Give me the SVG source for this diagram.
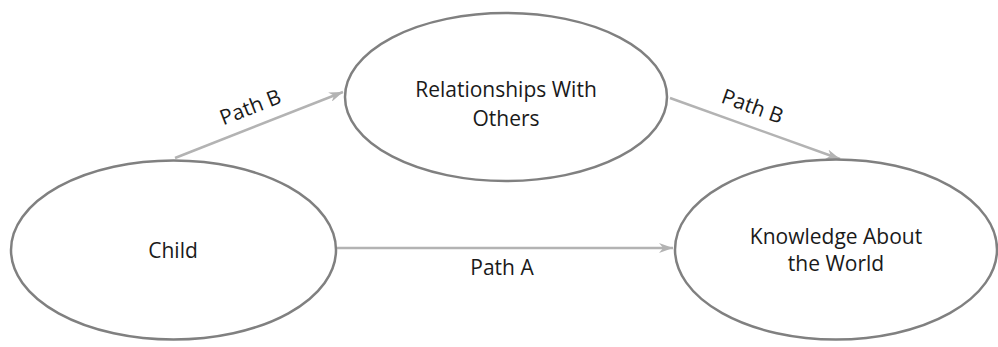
<svg xmlns="http://www.w3.org/2000/svg" width="998" height="347" viewBox="0 0 998 347">
<defs>
<style>
.node{fill:#fff;stroke:#808080;stroke-width:2.5}
.edge{stroke:#b3b3b3;stroke-width:2.5;fill:none}
text{font-family:"Open Sans","Noto Sans",sans-serif;font-size:21px;fill:#1a1a1a;text-anchor:middle}
</style>
<marker id="ah" viewBox="0 0 10 10" refX="10" refY="5" markerWidth="14" markerHeight="10" markerUnits="userSpaceOnUse" orient="auto" preserveAspectRatio="none">
<path d="M0,0 L10,5 L0,10 L3,5 Z" fill="#b3b3b3"/>
</marker>
</defs>
<rect width="998" height="347" fill="#fff"/>
<g id="connectors">
<line class="edge" x1="175" y1="158" x2="343" y2="92" marker-end="url(#ah)"/>
<line class="edge" x1="670" y1="98" x2="840" y2="159" marker-end="url(#ah)"/>
<line class="edge" x1="337" y1="248" x2="673" y2="248" marker-end="url(#ah)"/>
<text x="253" y="114" transform="rotate(-21.4 253 114)">Path B</text>
<text x="750" y="113" transform="rotate(19.7 750 113)">Path B</text>
<text x="502" y="275">Path A</text>
</g>
<g id="child">
<ellipse class="node" cx="173.5" cy="250" rx="162.5" ry="89.5"/>
<text x="173" y="258">Child</text>
</g>
<g id="relationships">
<ellipse class="node" cx="506" cy="97" rx="161" ry="84"/>
<text x="506" y="97">Relationships With</text>
<text x="506" y="126">Others</text>
</g>
<g id="knowledge">
<ellipse class="node" cx="836" cy="249.5" rx="161" ry="90"/>
<text x="836" y="244">Knowledge About</text>
<text x="836" y="271">the World</text>
</g>
</svg>
